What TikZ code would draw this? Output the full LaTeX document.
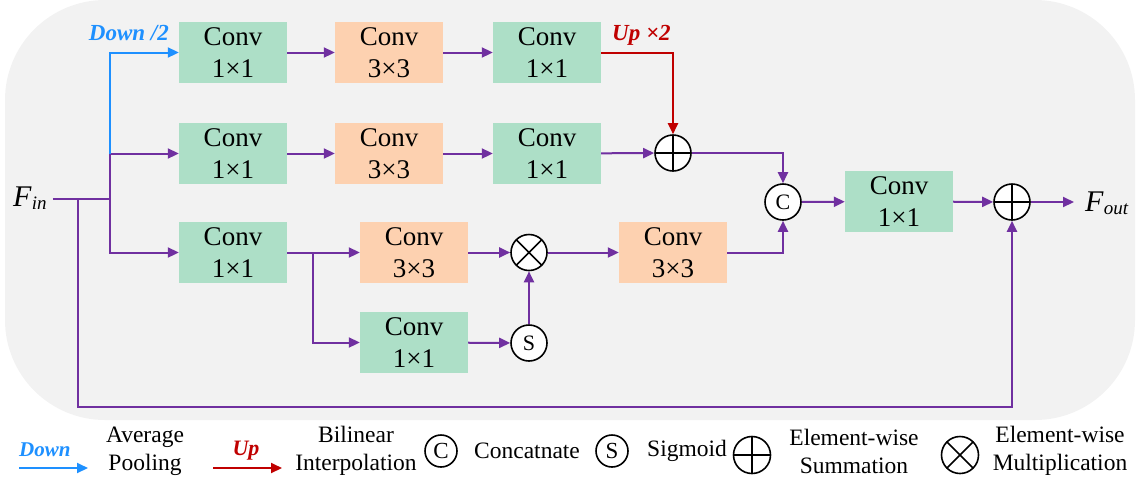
\documentclass[tikz,border=0pt]{standalone}
\usepackage{fontspec}
\IfFontExistsTF{LiberationSerif-Regular.ttf}{%
  \setmainfont{LiberationSerif}[Extension=.ttf, UprightFont=*-Regular, BoldFont=*-Bold, ItalicFont=*-Italic, BoldItalicFont=*-BoldItalic]}{%
  \setmainfont{Liberation Serif}}
\usetikzlibrary{arrows.meta}
\definecolor{bggray}{RGB}{242,242,242}
\definecolor{boxgreen}{RGB}{173,223,199}
\definecolor{boxorange}{RGB}{253,209,176}
\definecolor{purp}{RGB}{112,48,160}
\definecolor{dblue}{RGB}{30,144,255}
\definecolor{dred}{RGB}{192,0,0}
\begin{document}
\begin{tikzpicture}[x=1pt,y=-1pt,
  box/.style={minimum width=108pt, minimum height=61pt, inner sep=0pt, align=center, font=\fontsize{27}{32}\selectfont},
  gbox/.style={box, fill=boxgreen},
  obox/.style={box, fill=boxorange},
  tip/.style={-{Triangle[length=11pt,width=10pt]}},
  arr/.style={draw=purp, line width=2pt, tip},
  wire/.style={draw=purp, line width=2pt},
  barr/.style={draw=dblue, line width=2pt, tip},
  rarr/.style={draw=dred, line width=2pt, tip},
  opc/.style={circle, draw=black, line width=1.6pt, fill=white, minimum size=#1, inner sep=0pt},
  opc/.default=36pt,
  plusc/.style={opc=#1, path picture={\draw[line width=1.6pt] (path picture bounding box.north) -- (path picture bounding box.south) (path picture bounding box.west) -- (path picture bounding box.east);}},
  plusc/.default=36pt,
  multc/.style={opc=#1, path picture={\draw[line width=1.6pt] (path picture bounding box.north west) -- (path picture bounding box.south east) (path picture bounding box.south west) -- (path picture bounding box.north east);}},
  multc/.default=36pt,
  lbl/.style={inner sep=0pt, font=\fontsize{23}{23}\selectfont\bfseries\itshape},
  legtxt/.style={inner sep=0pt, align=center, font=\fontsize{23.5}{28}\selectfont},
]
\useasboundingbox (0,0) rectangle (1137,483);
\fill[bggray, rounded corners=100pt] (5,0) rectangle (1135,420);

% boxes
\node[gbox] (r1c1) at (233,52.5) {Conv\\1×1};
\node[obox] (r1c2) at (389,52.5) {Conv\\3×3};
\node[gbox] (r1c3) at (547,52.5) {Conv\\1×1};
\node[gbox] (r2c1) at (233,153.5) {Conv\\1×1};
\node[obox] (r2c2) at (389,153.5) {Conv\\3×3};
\node[gbox] (r2c3) at (547,153.5) {Conv\\1×1};
\node[gbox] (r3c1) at (233,252.5) {Conv\\1×1};
\node[obox] (r3c2) at (414,252.5) {Conv\\3×3};
\node[obox] (r3c3) at (673,252.5) {Conv\\3×3};
\node[gbox] (r4) at (414,342.5) {Conv\\1×1};
\node[gbox] (fconv) at (899,201.5) {Conv\\1×1};

% operators
\node[plusc] (plus1) at (673,153) {};
\node[opc, font=\fontsize{22}{22}\selectfont] (cat) at (783,202) {C};
\node[plusc] (sumF) at (1012,202) {};
\node[multc] (mul) at (529,252.5) {};
\node[opc, font=\fontsize{22}{22}\selectfont] (sig) at (529,343) {S};

% input / output
\node[anchor=base west, inner sep=0pt] (Fin) at (13,206)
  {\fontsize{30}{30}\selectfont\textit{F}\raisebox{-3pt}{\fontsize{19}{19}\selectfont\textit{in}}};
\node[anchor=base west, inner sep=0pt] (Fout) at (1085,211)
  {\fontsize{30}{30}\selectfont\textit{F}\raisebox{-3pt}{\fontsize{19}{19}\selectfont\textit{out}}};

\coordinate (jA) at (78,199);
\coordinate (jB) at (110,199);
\coordinate (jU) at (110,153.5);
\coordinate (bot) at (78,407);
\coordinate (jC) at (313,252.5);
\coordinate (fo) at (1074,202);

% input wiring
\draw[wire] ([xshift=6pt]Fin.east |- jB) -- (jB);
\draw[arr] (jB) |- (r2c1.west);
\draw[barr] (jU) |- (r1c1.west);
\draw[arr] (jB) |- (r3c1.west);
\draw[arr] (jA) -- (bot) -| (sumF.south);

% row 1
\draw[arr] (r1c1) -- (r1c2);
\draw[arr] (r1c2) -- (r1c3);
\draw[rarr] (r1c3.east) -| (plus1.north);
% row 2
\draw[arr] (r2c1) -- (r2c2);
\draw[arr] (r2c2) -- (r2c3);
\draw[arr] (r2c3) -- (plus1);
\draw[arr] (plus1.east) -| (cat.north);
% row 3
\draw[arr] (r3c1) -- (r3c2);
\draw[arr] (jC) |- (r4.west);
\draw[arr] (r3c2) -- (mul);
\draw[arr] (r4) -- (sig);
\draw[arr] (sig) -- (mul);
\draw[arr] (mul) -- (r3c3);
\draw[arr] (r3c3.east) -| (cat.south);
% output
\draw[arr] (cat) -- (fconv);
\draw[arr] (fconv) -- (sumF);
\draw[arr] (sumF) -- (fo);

% labels
\node[lbl, text=dblue, anchor=base east] (downlbl) at (169,40) {Down /2};
\node[lbl, text=dred, anchor=base west] (uplbl) at (612,40) {Up ×2};

% legend
\coordinate (lbA) at (19,468);
\coordinate (lbB) at (88,468);
\draw[barr] (lbA) -- (lbB);
\node[lbl, text=dblue, anchor=base west, font=\fontsize{21}{21}\selectfont\bfseries\itshape] (legdown) at (19,456) {Down};
\node[legtxt] (legavg) at (145,451) {Average\\Pooling};
\coordinate (lrA) at (213,468);
\coordinate (lrB) at (282,468);
\draw[rarr] (lrA) -- (lrB);
\node[lbl, text=dred, anchor=base, font=\fontsize{22}{22}\selectfont\bfseries\itshape] (legup) at (246,455) {Up};
\node[legtxt] (legbil) at (356,451) {Bilinear\\Interpolation};
\node[opc=32pt, font=\fontsize{23}{23}\selectfont] (legC) at (441,451) {C};
\node[legtxt, anchor=west] (legcat) at (474,451) {Concatnate};
\node[opc=32pt, font=\fontsize{23}{23}\selectfont] (legS) at (612,451) {S};
\node[legtxt, anchor=west] (legsig) at (647,451) {Sigmoid};
\node[plusc=37pt] (legP) at (752,455) {};
\node[legtxt] (legsum) at (854,451) {Element-wise\\Summation};
\node[multc=37pt] (legM) at (960,455) {};
\node[legtxt] (legmul) at (1060,451) {Element-wise\\Multiplication};
\end{tikzpicture}
\end{document}
